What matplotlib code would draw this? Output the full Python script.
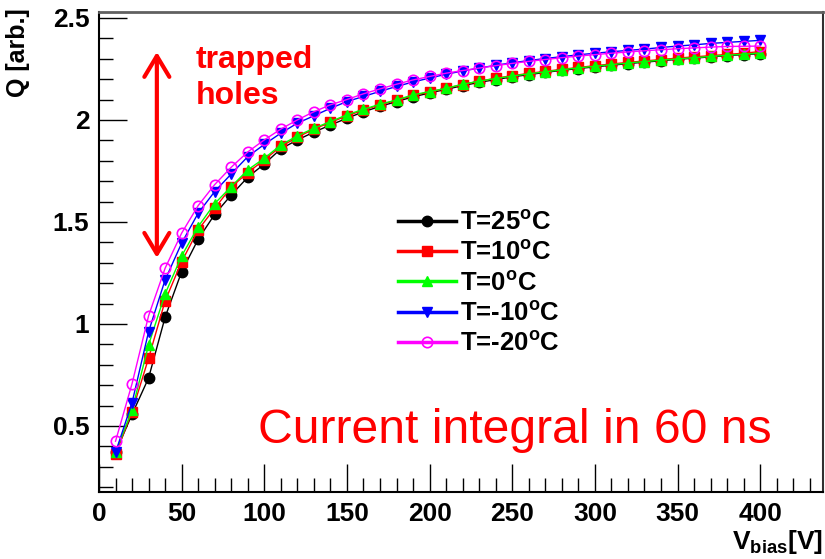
import matplotlib
matplotlib.use("Agg")
import matplotlib.pyplot as plt
from matplotlib.ticker import MultipleLocator, FuncFormatter

plt.rcParams['font.family'] = ['Liberation Sans', 'DejaVu Sans']
plt.rcParams['font.weight'] = 'bold'
plt.rcParams['mathtext.fontset'] = 'custom'
plt.rcParams['mathtext.rm'] = 'Liberation Sans:bold'
plt.rcParams['mathtext.bf'] = 'Liberation Sans:bold'
plt.rcParams['mathtext.it'] = 'Liberation Sans:bold'

# ---- data ----
v_bias = [10, 20, 30, 40, 50, 60, 70, 80, 90, 100,
          110, 120, 130, 140, 150, 160, 170, 180, 190, 200,
          210, 220, 230, 240, 250, 260, 270, 280, 290, 300,
          310, 320, 330, 340, 350, 360, 370, 380, 390, 400]

q_25 = [0.37, 0.557, 0.735, 1.033, 1.256, 1.415, 1.537, 1.632, 1.719, 1.784,
        1.858, 1.902, 1.940, 1.975, 2.008, 2.040, 2.066, 2.090, 2.113, 2.132,
        2.150, 2.168, 2.184, 2.198, 2.211, 2.222, 2.233, 2.243, 2.252, 2.260,
        2.268, 2.276, 2.283, 2.290, 2.297, 2.303, 2.309, 2.315, 2.320, 2.325]

q_10 = [0.36, 0.570, 0.832, 1.113, 1.305, 1.461, 1.567, 1.670, 1.742, 1.804,
        1.870, 1.915, 1.955, 1.988, 2.020, 2.048, 2.074, 2.096, 2.120, 2.137,
        2.155, 2.173, 2.190, 2.204, 2.217, 2.228, 2.238, 2.248, 2.257, 2.266,
        2.274, 2.282, 2.289, 2.296, 2.303, 2.309, 2.315, 2.321, 2.327, 2.335]

q_0 = [0.37, 0.578, 0.897, 1.147, 1.333, 1.477, 1.590, 1.673, 1.755, 1.812,
       1.877, 1.922, 1.959, 1.992, 2.025, 2.052, 2.077, 2.098, 2.123, 2.139,
       2.155, 2.175, 2.190, 2.203, 2.215, 2.226, 2.236, 2.246, 2.255, 2.263,
       2.271, 2.279, 2.286, 2.293, 2.299, 2.305, 2.311, 2.317, 2.322, 2.328]

q_m10 = [0.37, 0.614, 0.962, 1.216, 1.396, 1.543, 1.649, 1.735, 1.820, 1.880,
         1.935, 1.984, 2.020, 2.057, 2.090, 2.115, 2.140, 2.164, 2.186, 2.205,
         2.224, 2.240, 2.254, 2.268, 2.280, 2.291, 2.301, 2.310, 2.319, 2.327,
         2.334, 2.341, 2.347, 2.355, 2.362, 2.368, 2.375, 2.380, 2.385, 2.390]

q_m20 = [0.425, 0.707, 1.040, 1.273, 1.445, 1.580, 1.683, 1.768, 1.843, 1.902,
         1.955, 2.000, 2.040, 2.074, 2.100, 2.128, 2.152, 2.175, 2.196, 2.213,
         2.229, 2.242, 2.254, 2.266, 2.277, 2.287, 2.296, 2.305, 2.313, 2.320,
         2.327, 2.333, 2.339, 2.344, 2.349, 2.353, 2.357, 2.360, 2.361, 2.362]

labels = [r'T=25$^{\mathbf{o}}$C', r'T=10$^{\mathbf{o}}$C', r'T=0$^{\mathbf{o}}$C',
          r'T=-10$^{\mathbf{o}}$C', r'T=-20$^{\mathbf{o}}$C']
series = [q_25, q_10, q_0, q_m10, q_m20]
colors = ['#000000', '#ff0000', '#00ff00', '#0000ff', '#ff00ff']
markers = ['o', 's', '^', 'v', 'o']
filled = [True, True, True, True, False]

# ---- figure ----
W, H = 825, 559
fig = plt.figure(figsize=(W / 100, H / 100), dpi=100)
ax = fig.add_axes([99 / W, 1 - 492 / H, (823 - 99) / W, (492 - 12) / H])

for y, lab, c, m, f in zip(series, labels, colors, markers, filled):
    ax.plot(v_bias, y, color=c, lw=1.0, marker=m, markersize=7.5,
            markerfacecolor=c if f else 'none', markeredgecolor=c,
            markeredgewidth=1.0 if f else 1.2, label=lab)

ax.set_xlim(0, 438)
ax.set_ylim(0.176, 2.529)
ax.xaxis.set_major_locator(MultipleLocator(50))
ax.xaxis.set_minor_locator(MultipleLocator(10))
ax.yaxis.set_major_locator(MultipleLocator(0.5))
ax.yaxis.set_minor_locator(MultipleLocator(0.1))
ax.yaxis.set_major_formatter(FuncFormatter(lambda v, p: f'{v:g}'))
ax.tick_params(which='major', direction='in', length=20, width=1.0,
               labelsize=19, top=False, right=False, pad=7)
ax.tick_params(which='minor', direction='in', length=10, width=1.0,
               top=False, right=False)
for lbl in ax.get_xticklabels() + ax.get_yticklabels():
    lbl.set_fontweight('bold')
for s in ['left', 'bottom']:
    ax.spines[s].set_linewidth(1.5)
    ax.spines[s].set_color('black')
ax.spines['top'].set_linewidth(2.0)
ax.spines['top'].set_color('#606060')
ax.spines['right'].set_linewidth(1.5)
ax.spines['right'].set_color('#303030')

leg = ax.legend(loc='upper left', bbox_to_anchor=(398 / W, 1 - 211 / H),
                bbox_transform=fig.transFigure, frameon=False, fontsize=18.5,
                numpoints=1, handlelength=2.25, handletextpad=0.15,
                labelspacing=0.24, borderpad=0, borderaxespad=0)
for ln in leg.get_lines():
    ln.set_linewidth(2.5)
for t in leg.get_texts():
    t.set_fontweight('bold')

# annotations
ax.annotate('', xy=(35, 2.333), xytext=(35, 1.324),
            arrowprops=dict(arrowstyle='<->,head_length=0.75,head_width=0.45',
                            color='#ff0000', lw=3, mutation_scale=20,
                            shrinkA=0, shrinkB=0))
fig.text(196 / W, 1 - 45 / H, 'trapped\nholes', color='#ff0000', fontsize=23,
         fontweight='bold', ha='left', va='top', linespacing=1.25)
fig.text(258 / W, 1 - 443 / H, 'Current integral in 60 ns', color='#ff0000',
         fontsize=34.7, fontweight='normal', ha='left', va='baseline')

fig.text(18 / W, 1 - 8 / H, 'Q [arb.]', rotation=90, fontsize=18,
         fontweight='bold', ha='center', va='top')
fig.text(823 / W, 1 - 556 / H, r'V$_{\mathbf{bias}}$[V]', fontsize=19,
         fontweight='bold', ha='right', va='bottom')

fig.savefig('out.png', dpi=100)
